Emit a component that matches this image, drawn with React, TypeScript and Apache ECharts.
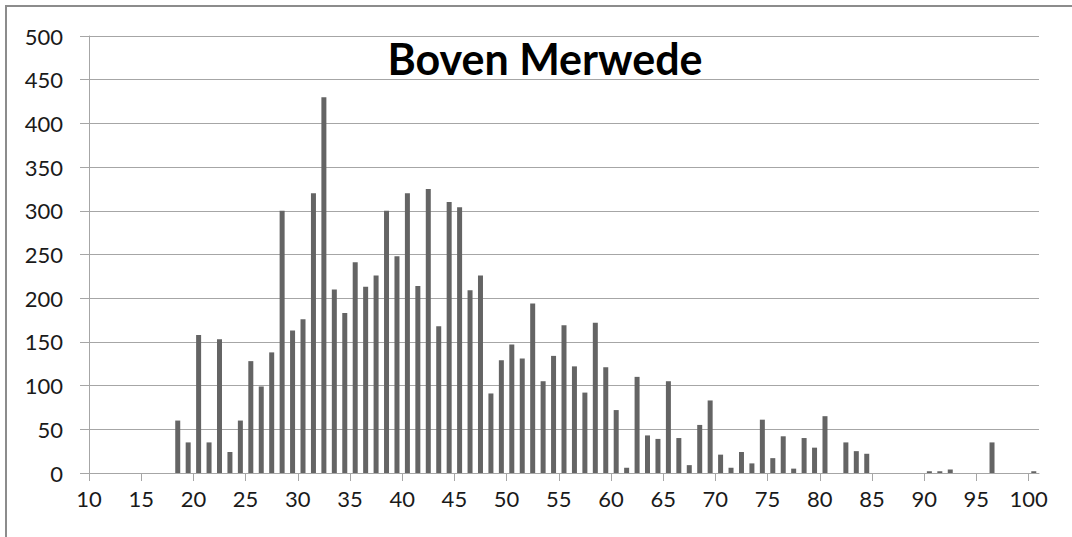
import React, { useEffect, useRef } from "react";
import * as echarts from "echarts";

const chartTitle = "Boven Merwede";

// bin centres (x values) and counts
const binCenters = [
  18.5, 19.5, 20.5, 21.5, 22.5, 23.5, 24.5, 25.5, 26.5, 27.5,
  28.5, 29.5, 30.5, 31.5, 32.5, 33.5, 34.5, 35.5, 36.5, 37.5,
  38.5, 39.5, 40.5, 41.5, 42.5, 43.5, 44.5, 45.5, 46.5, 47.5,
  48.5, 49.5, 50.5, 51.5, 52.5, 53.5, 54.5, 55.5, 56.5, 57.5,
  58.5, 59.5, 60.5, 61.5, 62.5, 63.5, 64.5, 65.5, 66.5, 67.5,
  68.5, 69.5, 70.5, 71.5, 72.5, 73.5, 74.5, 75.5, 76.5, 77.5,
  78.5, 79.5, 80.5, 81.5, 82.5, 83.5, 84.5, 85.5, 86.5, 87.5,
  88.5, 89.5, 90.5, 91.5, 92.5, 93.5, 94.5, 95.5, 96.5, 97.5,
  98.5, 99.5, 100.5,
];

const counts = [
  60, 35, 158, 35, 153, 24, 60, 128, 99, 138,
  300, 163, 176, 320, 430, 210, 183, 241, 213, 226,
  300, 248, 320, 214, 325, 168, 310, 304, 209, 226,
  91, 129, 147, 131, 194, 105, 134, 169, 122, 92,
  172, 121, 72, 6, 110, 43, 39, 105, 40, 9,
  55, 83, 21, 6, 24, 11, 61, 17, 42, 5,
  40, 29, 65, 0, 35, 25, 22, 0, 0, 0,
  0, 0, 2, 2, 4, 0, 0, 0, 35, 0,
  0, 0, 2,
];

const xTickLabels = [10, 15, 20, 25, 30, 35, 40, 45, 50, 55, 60, 65, 70, 75, 80, 85, 90, 95, 100];
const yTickLabels = [0, 50, 100, 150, 200, 250, 300, 350, 400, 450, 500];

export default function App() {
  const ref = useRef<HTMLDivElement>(null);

  useEffect(() => {
    if (!ref.current) return;
    const chart = echarts.init(ref.current, undefined, { renderer: "svg" });
    const data = binCenters.map((x, i) => [x, counts[i]]);
    const labelFont = { fontFamily: "Lato", fontSize: 22, color: "#1a1a1a" };

    chart.setOption({
      animation: false,
      backgroundColor: "#ffffff",
      grid: {
        left: 89,
        right: 33,
        top: 36,
        bottom: 64,
        containLabel: false,
        outerBoundsMode: "none",
      },
      graphic: [
        {
          type: "rect",
          shape: { x: 6, y: 6, width: 1100, height: 600 },
          style: { fill: "none", stroke: "#8c8c8c", lineWidth: 2 },
          silent: true,
        },
        {
          type: "text",
          style: {
            text: chartTitle,
            x: 545,
            y: 58,
            align: "center",
            verticalAlign: "middle",
            font: "bold 43px Lato",
            fill: "#000000",
          },
        },
      ],
      xAxis: {
        type: "value",
        min: 10,
        max: 101,
        axisLine: { show: true, lineStyle: { color: "#a6a6a6", width: 1 } },
        axisTick: {
          show: true,
          length: 8,
          customValues: xTickLabels,
          lineStyle: { color: "#a6a6a6" },
        },
        axisLabel: {
          ...labelFont,
          margin: 14,
          customValues: xTickLabels,
          showMinLabel: true,
          showMaxLabel: true,
        },
        splitLine: { show: false },
      },
      yAxis: {
        type: "value",
        min: 0,
        max: 500,
        interval: 50,
        axisLine: { show: true, lineStyle: { color: "#a6a6a6", width: 1 } },
        axisTick: { show: true, length: 9, lineStyle: { color: "#a6a6a6" } },
        axisLabel: {
          ...labelFont,
          margin: 26,
          customValues: yTickLabels,
        },
        splitLine: { show: true, lineStyle: { color: "#a6a6a6", width: 1 } },
      },
      series: [
        {
          type: "bar",
          data,
          barWidth: 5,
          itemStyle: { color: "#646464" },
        },
      ],
    });

    return () => chart.dispose();
  }, []);

  return (
    <div
      ref={ref}
      style={{ position: "fixed", left: 0, top: 0, width: 1072, height: 537 }}
    />
  );
}
